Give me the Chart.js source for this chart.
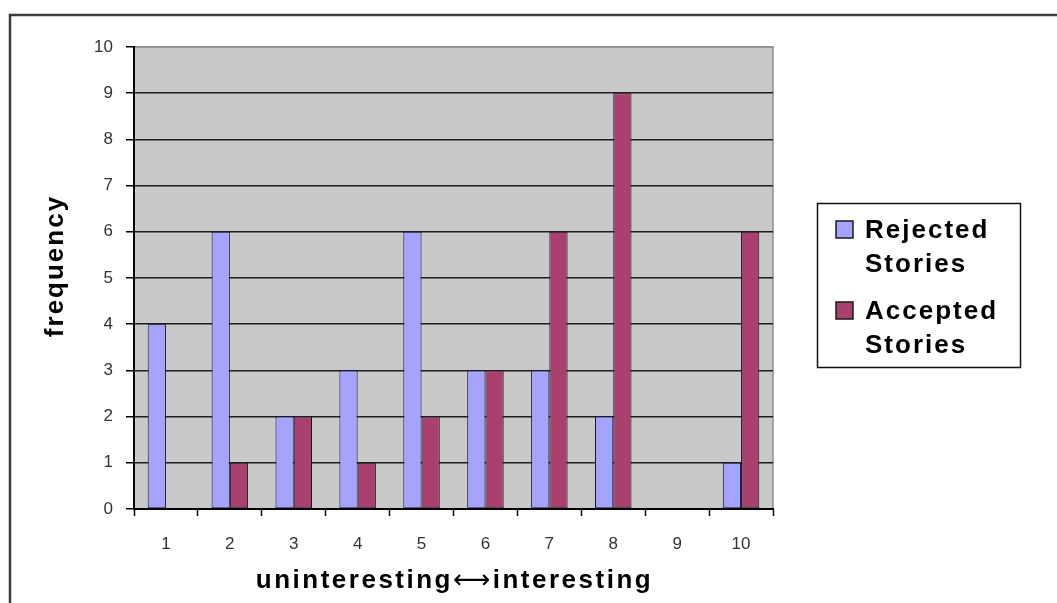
<!DOCTYPE html>
<html>
<head>
<meta charset="utf-8">
<script src="https://cdn.jsdelivr.net/npm/chart.js@4"></script>
<style>
  html, body { margin: 0; padding: 0; background: #ffffff; }
  #wrap { width: 1057px; height: 603px; }
</style>
</head>
<body>
<div id="wrap"><canvas id="chart" width="1057" height="603"></canvas></div>
<script>
// Ratings from 1 (uninteresting) to 10 (interesting)
const categories = ['1', '2', '3', '4', '5', '6', '7', '8', '9', '10'];
const rejectedStories = [4, 6, 2, 3, 6, 3, 3, 2, 0, 1];
const acceptedStories = [0, 1, 2, 1, 2, 3, 6, 9, 0, 6];
const seriesNames = ['Rejected Stories', 'Accepted Stories'];
const yTicks = [0, 1, 2, 3, 4, 5, 6, 7, 8, 9, 10];
const xTitleParts = ['uninteresting', '\u27F7', 'interesting'];
const yTitle = 'frequency';

const FONT = "'Liberation Sans', Arial, sans-serif";
const ARROW_FONT = "'DejaVu Sans', sans-serif";
const BLUE = '#A4A4FF';
const PLUM = '#A9416E';

// Grey plot background, frame of the chart and the plot's right/top edge
const frame = {
  id: 'frame',
  beforeDraw(chart) {
    const { ctx, chartArea: a } = chart;
    ctx.save();
    ctx.fillStyle = '#ffffff';
    ctx.fillRect(0, 0, chart.width, chart.height);
    ctx.fillStyle = '#C9C9C9';
    ctx.fillRect(a.left, a.top, a.right - a.left, a.bottom - a.top);
    ctx.strokeStyle = '#8f8f8f';
    ctx.lineWidth = 1.5;
    ctx.beginPath();
    ctx.moveTo(a.left, a.top);
    ctx.lineTo(a.right, a.top);
    ctx.lineTo(a.right, a.bottom);
    ctx.stroke();
    // outer chart border (runs off the bottom and right of the canvas)
    ctx.strokeStyle = '#3c3c3c';
    ctx.lineWidth = 2.5;
    ctx.beginPath();
    ctx.moveTo(10, chart.height + 5);
    ctx.lineTo(10, 15);
    ctx.lineTo(chart.width + 5, 15);
    ctx.stroke();
    ctx.restore();
  }
};

// Axis titles and the boxed legend on the right
const annotations = {
  id: 'annotations',
  afterDraw(chart) {
    const { ctx, chartArea: a } = chart;
    ctx.save();
    ctx.fillStyle = '#000000';
    ctx.textBaseline = 'alphabetic';

    // x title: words in Arial bold, the long double arrow in a font that has it
    ctx.letterSpacing = '2.5px';
    const fonts = ['bold 26px ' + FONT, '26px ' + ARROW_FONT, 'bold 26px ' + FONT];
    const widths = xTitleParts.map((t, i) => { ctx.font = fonts[i]; return ctx.measureText(t).width; });
    const total = widths.reduce((s, w) => s + w, 0);
    let x = (a.left + a.right) / 2 - total / 2 + 1;
    ctx.textAlign = 'left';
    xTitleParts.forEach((t, i) => {
      ctx.font = fonts[i];
      ctx.fillText(t, x, 588);
      x += widths[i];
    });

    ctx.letterSpacing = '2px';
    ctx.font = 'bold 26px ' + FONT;
    ctx.textAlign = 'center';
    ctx.save();
    ctx.translate(63, 266);
    ctx.rotate(-Math.PI / 2);
    ctx.fillText(yTitle, 0, 0);
    ctx.restore();

    // legend box
    const bx = 817.5, by = 203.5, bw = 203, bh = 164;
    ctx.fillStyle = '#ffffff';
    ctx.fillRect(bx, by, bw, bh);
    ctx.strokeStyle = '#111111';
    ctx.lineWidth = 1.5;
    ctx.strokeRect(bx, by, bw, bh);

    ctx.textAlign = 'left';
    chart.data.datasets.forEach((ds, i) => {
      const top = 221 + i * 81;
      ctx.fillStyle = ds.backgroundColor;
      ctx.fillRect(836, top, 17, 17);
      ctx.strokeStyle = '#1a1a1a';
      ctx.lineWidth = 1.5;
      ctx.strokeRect(836, top, 17, 17);
      ctx.fillStyle = '#000000';
      const words = ds.label.split(' ');
      words.forEach((w, j) => {
        ctx.fillText(w, 865, top + 17 + j * 34);
      });
    });
    ctx.restore();
  }
};

new Chart(document.getElementById('chart'), {
  type: 'bar',
  data: {
    labels: categories,
    datasets: [
      {
        label: seriesNames[0],
        data: rejectedStories,
        backgroundColor: BLUE,
        borderColor: '#12122e',
        borderWidth: 1,
        borderSkipped: false
      },
      {
        label: seriesNames[1],
        data: acceptedStories,
        backgroundColor: PLUM,
        borderColor: '#12122e',
        borderWidth: 1,
        borderSkipped: false
      }
    ]
  },
  options: {
    responsive: false,
    animation: false,
    devicePixelRatio: 1,
    layout: { padding: { top: 47, right: 284, left: 0, bottom: 0 } },
    datasets: {
      bar: { categoryPercentage: 0.571, barPercentage: 1.0 }
    },
    plugins: {
      legend: { display: false },
      tooltip: { enabled: false },
      title: { display: false }
    },
    scales: {
      x: {
        offset: true,
        grid: {
          offset: true,
          drawOnChartArea: false,
          drawTicks: true,
          tickLength: 7,
          tickColor: '#000000',
          tickWidth: 1.5
        },
        border: { color: '#000000', width: 2 },
        ticks: {
          color: '#333333',
          font: { family: FONT, size: 17 },
          padding: 18,
          maxRotation: 0
        },
        afterFit(scale) { scale.height = 94; }
      },
      y: {
        min: 0,
        max: 10,
        afterBuildTicks(scale) {
          scale.ticks = yTicks.map(v => ({ value: v }));
        },
        grid: {
          color: c => (c.tick && c.tick.value === 10 ? '#8f8f8f' : '#1e1e1e'),
          lineWidth: 1.5,
          tickLength: 8,
          tickColor: '#000000',
          tickWidth: 1.5
        },
        border: { color: '#000000', width: 2 },
        ticks: {
          color: '#333333',
          font: { family: FONT, size: 17 },
          padding: 13
        },
        afterFit(scale) { scale.width = 134; }
      }
    }
  },
  plugins: [frame, annotations]
});
</script>
</body>
</html>
